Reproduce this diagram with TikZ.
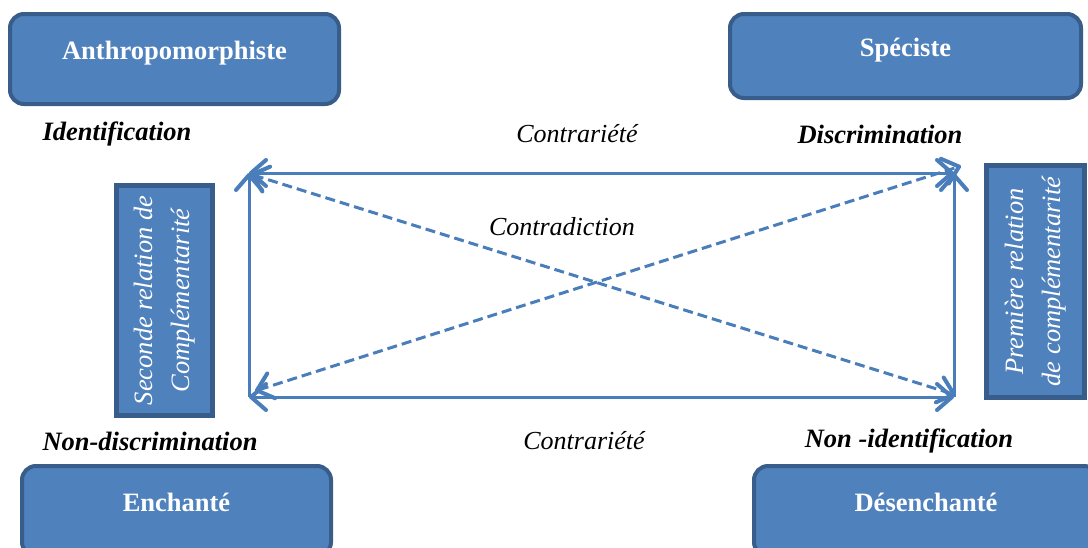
\documentclass[tikz,border=0pt]{standalone}
\usepackage{fontspec}
\setmainfont{Liberation Serif}
\usetikzlibrary{arrows.meta}
\definecolor{boxfill}{HTML}{4F81BD}
\definecolor{boxline}{HTML}{385D8A}
\definecolor{linecol}{HTML}{4A7EBB}
\begin{document}
\begin{tikzpicture}[x=1pt,y=-1pt,
  >={Straight Barb[length=15pt,width=26pt,line width=4pt 0,round]},
  catbox/.style={draw=boxline, line width=4pt, fill=boxfill, rounded corners=14pt,
    text=white, font=\fontsize{26.5}{30}\selectfont\bfseries, inner sep=0pt,
    text height=18pt, text depth=18pt},
  relbox/.style={draw=boxline, line width=5pt, fill=boxfill, text=white,
    font=\fontsize{26.5}{37}\selectfont\itshape, align=center, rotate=90, inner sep=0pt},
  pole/.style={font=\fontsize{26.5}{30}\selectfont\bfseries\itshape, inner sep=0pt},
  rellabel/.style={font=\fontsize{26}{30}\selectfont\itshape, inner sep=0pt},
  solidlink/.style={draw=linecol, line width=3pt},
  dashlink/.style={draw=linecol, line width=3pt, dash pattern=on 10pt off 5pt}
]
\useasboundingbox (0,0) rectangle (1088,547);

% category boxes
\node[catbox, minimum width=329pt, minimum height=90pt] (anthro) at (174.5,59) {Anthropomorphiste};
\node[catbox, minimum width=351pt, minimum height=84pt] (spec) at (905.5,56) {Spéciste};
\node[catbox, minimum width=309pt, minimum height=90pt] (ench) at (176.5,511) {Enchanté};
\node[catbox, minimum width=344pt, minimum height=90pt] (desench) at (926,511) {Désenchanté};

% relation boxes
\node[relbox, minimum width=230pt, minimum height=96pt] (second) at (164.5,300.5)
  {Seconde relation de\\Complémentarité};
\node[relbox, minimum width=232pt, minimum height=98pt] (premiere) at (1035.5,281.5)
  {Première relation\\de complémentarité};

% pole labels
\node[pole] (ident) at (117,134) {Identification};
\node[pole] (discr) at (880,134) {Discrimination};
\node[pole] (nondiscr) at (150,441) {Non-discrimination};
\node[pole] (nonident) at (909,441) {Non -identification};

% relation labels
\node[rellabel] (contr1) at (577,134) {Contrariété};
\node[rellabel] (contr2) at (584,441) {Contrariété};
\node[rellabel] (contrad) at (562,227) {Contradiction};

% square corners
\coordinate (TL) at (249,173);
\coordinate (TR) at (954,173);
\coordinate (BL) at (249,397);
\coordinate (BR) at (954,397);
\coordinate (dTL) at (250,174);
\coordinate (dBR) at (956,395);
\coordinate (dBL) at (255,391);
\coordinate (dTR) at (961,166);

% square sides
\draw[solidlink, <->] (TL) -- (TR);
\draw[solidlink, <->] (BL) -- (BR);
\draw[solidlink, ->] (BL) -- (TL);
\draw[solidlink, ->] (BR) -- (TR);

% diagonals
\draw[dashlink, <->] (dTL) -- (dBR);
\draw[dashlink, <->] (dBL) -- (dTR);
\end{tikzpicture}
\end{document}
